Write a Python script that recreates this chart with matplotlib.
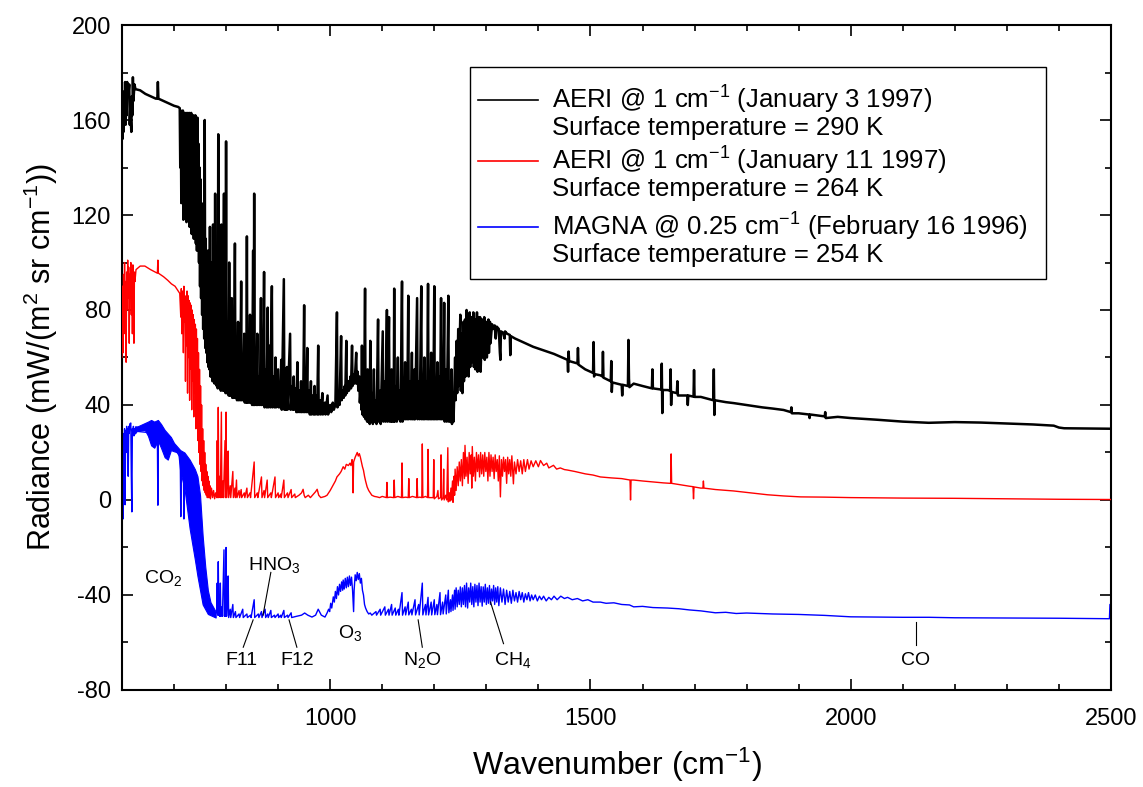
import matplotlib
matplotlib.use("Agg")
import matplotlib.pyplot as plt
from matplotlib.ticker import MultipleLocator
from matplotlib.patches import Rectangle

plt.rcParams['font.family'] = ['Liberation Sans', 'DejaVu Sans']
plt.rcParams['mathtext.fontset'] = 'custom'
plt.rcParams['mathtext.rm'] = 'Liberation Sans'
plt.rcParams['mathtext.it'] = 'Liberation Sans'
plt.rcParams['mathtext.default'] = 'regular'
plt.rcParams['axes.unicode_minus'] = False

# ---------------- data (wavenumber cm-1, radiance mW/(m2 sr cm-1)) ----------------
black_pts = [
    (600,165),(601,152),(602,170),(603,155),(604,172),(605,160),(606,176),(607,158),(608,168),(609,162),
    (610,176),(612,170),(614,175),(615,158),(616,165),(618,155),(619,170),(620,162),(621,178),(622,168),
    (624,175),(626,173),(635,172.5),(645,171),(655,170),(665,169),(668,169),(669,176),(670,169),(680,168),
    (690,167),(700,166),(708,165.5),(711,165),
    (712,140),(713,164),(714,125),(715,163),(716,145),(717,164),(718,118),(719,163),(720,130),(721,163),
    (722,125),(723,162),(724,117),(725,163),(726,128),(727,162),(728,120),(729,163),(730,115),(731,162),
    (732,125),(733,163),(734,112),(735,161),(736,120),(737,162),(738,110),(739,160),(740,115),(741,162),
    (742,108),(743,160),(744,105),(745,161),(746,110),(747,150),(748,100),(749,140),(750,90),(751,135),
    (752,85),(753,125),(754,78),(755,120),(756,72),(757,115),(758,68),(759,160),(760,64),(761,110),
    (762,62),(763,100),(764,58),(765,105),(766,56),(767,95),(768,55),(769,115),(770,52),(771,100),
    (772,52),(773,90),(774,50),(775,116),(776,50),(777,85),(778,49),(779,129),(780,50),(781,75),
    (782,48),(783,90),(784,47),(785,154),(786,48),(787,80),(788,47),(789,70),(790,46),(791,116),
    (792,47),(793,65),(794,46),(796,129),(797,46),(798,70),(799,45),(800,151),(801,45),(802,65),
    (803,45),(804,75),(805,44),(806,100),(807,44),(808,60),(809,44),(811,85),(812,43),(814,60),
    (815,43),(817,108),(818,43),(820,55),(821,42),(823,75),(824,42),(826,58),(827,42),(829,92),
    (830,42),(832,55),(833,42),(835,70),(836,41),(838,52),(839,41),(840,111),(841,41),(843,58),
    (844,41),(846,78),(847,41),(849,52),(850,40),(852,105),(853,40),(854,129),(855,40),(857,55),
    (858,40),(860,70),(861,40),(864,52),(865,40),(867,85),(868,40),(870,50),(871,40),(873,96),
    (874,39),(877,55),(878,39),(880,81),(881,39),(884,65),(885,39),(888,90),(889,39),(892,52),
    (893,39),(895,60),(896,39),(900,55),(901,39),(903,48),(904,39),(906,59),(907,38),(911,93),
    (912,38),(914,50),(915,38),(917,56),(918,38),(923,70),(924,38),(927,48),(928,38),(930,52),
    (931,38),(934,47),(935,37),(937,58),(938,37),(941,46),(942,37),(944,50),(945,37),(947,45),
    (948,37),(950,82),(951,37),(953,48),(954,37),(956,64),(957,37),(960,46),(961,36),(963,50),
    (964,36),(967,44),(968,36),(970,48),(971,36),(974,44),(975,36),(977,65),(978,36),(981,42),
    (982,36),(985,45),(986,36),(990,41),(991,36),(995,44),(996,36),(1000,40),(1002,37),(1005,41),
    (1007,38),(1010,40),(1013,79),(1014,39),(1017,43),(1018,40),(1021,69),(1022,42),(1025,46),(1026,43),
    (1028,48),(1029,44),(1031,67),(1032,45),(1035,50),(1036,46),(1039,52),(1040,47),(1042,65),(1043,48),
    (1046,53),(1047,49),(1050,62),(1051,49),(1053,54),(1054,46),(1056,52),(1057,41),(1059,48),(1060,38),
    (1061,65),(1062,36),(1064,44),(1065,35),(1067,89),(1068,34),(1070,45),(1071,33),(1072,55),(1073,33),
    (1075,42),(1076,32),(1077,67),(1078,33),(1081,45),(1082,32),(1084,55),(1085,33),(1088,42),(1089,32),
    (1092,76),(1093,33),(1096,46),(1097,32),(1101,71),(1102,33),(1105,50),(1106,33),(1109,80),(1110,33),
    (1113,77),(1114,33),(1116,46),(1117,33),(1118,55),(1119,33),(1121,44),(1122,33),(1123,89),(1124,33),
    (1127,48),(1128,33),(1130,60),(1131,34),(1134,46),(1135,33),(1138,92),(1139,33),(1141,50),(1142,34),
    (1144,58),(1145,34),(1147,45),(1148,34),(1150,86),(1151,34),(1154,50),(1155,34),(1157,62),(1158,34),
    (1160,48),(1161,34),(1162,55),(1163,34),(1167,85),(1168,34),(1171,50),(1172,34),(1175,90),(1176,34),
    (1178,48),(1179,34),(1181,60),(1182,34),(1185,50),(1186,34),(1188,91),(1189,34),(1191,48),(1192,34),
    (1194,62),(1195,34),(1197,52),(1198,34),(1200,90),(1201,34),(1203,50),(1204,34),(1206,58),(1207,34),
    (1210,52),(1211,34),(1213,85),(1214,34),(1216,50),(1217,34),(1219,83),(1220,33),(1223,55),(1224,33),
    (1227,86),(1228,33),(1230,50),(1231,33),(1233,55),(1234,32),(1236,45),(1237,33),(1240,60),(1241,42),
    (1243,67),(1244,45),(1246,72),(1247,48),(1250,78),(1251,46),(1253,70),(1254,45),(1256,75),(1257,50),
    (1259,76),(1260,52),(1262,80),(1263,55),(1265,74),(1266,52),(1268,79),(1269,56),(1271,77),(1272,58),
    (1275,79),(1276,56),(1278,76),(1279,55),(1282,79),(1283,54),(1285,77),(1286,58),(1288,77),(1289,54),
    (1292,76),(1293,60),(1296,77),(1297,59),(1300,75),(1301,60),(1304,76),(1305,62),(1307,75),(1308,66),
    (1311,74),(1313,72),(1316,73.5),(1318,68),(1320,73),(1324,72),(1326,62),(1327,59),(1328,71),(1332,70.5),
    (1335,68),(1336,71),(1340,70),(1345,69.5),(1346,61),(1347,69),(1355,68),(1365,67),(1375,66),(1390,64.5),
    (1410,63),(1430,61.5),(1456,59),(1457,54),(1458,62.5),(1459,58.5),(1475,57.5),(1476,64),(1477,57),(1490,55),
    (1505,53.5),(1506,66.5),(1507,52),(1508,53),(1519,52.5),(1523,52),(1524,62.4),(1525,51.5),(1539,50),(1540,58.5),
    (1541,45.5),(1542,49.5),(1560,48.5),(1561,44),(1562,48.5),(1572,48),(1573,67.4),(1574,51),(1575,47.5),(1583,49),
    (1600,48),(1618,47),(1619,55),(1620,47),(1636,46.5),(1637,57.4),(1638,36.6),(1639,46.3),(1648,46.3),(1653,46),
    (1654,55),(1655,40),(1656,45.5),(1666,45),(1667,50),(1668,44),(1686,44),(1687,40),(1688,44),(1698,43.5),
    (1699,54.7),(1700,43.4),(1712,43.4),(1736,42),(1737,55),(1738,35.8),(1739,42),(1760,41.2),(1775,40.8),(1800,40),
    (1830,39),(1850,38.5),(1871,37.9),(1885,37),(1886,39),(1887,36.5),(1900,36.5),(1920,36),(1921,34.5),(1922,36),
    (1950,35.2),(1951,37),(1952,34.5),(1975,35),(2000,34.5),(2050,33.8),(2100,33),(2150,32.5),(2200,32.8),(2250,32.6),
    (2300,32.2),(2350,31.8),(2390,31.3),(2400,30.5),(2410,30.2),(2450,30.1),(2500,30),
]

red_pts = [
    (600,60),(601,90),(602,62),(603,95),(604,70),(605,100),(606,75),(607,92),(608,58),(609,96),
    (610,80),(611,101),(612,85),(613,98),(614,66),(615,95),(616,85),(617,100),(618,78),(619,97),
    (620,70),(621,99),(622,88),(623,66),(624,96),(625,92),(627,97),(635,98.5),(644,98.5),(655,97),
    (668,95.5),(669,101),(670,95.5),(680,94),(688,92.5),(695,91),(702,90),(708,88),(711,87),
    (713,77),(714,89),(715,70),(716,88),(717,84),(718,62),(719,90),(720,75),(721,86),(722,50),
    (723,85),(724,65),(725,88),(726,45),(727,86),(728,60),(729,84),(730,42),(731,83),(732,55),
    (733,82),(734,38),(735,80),(736,50),(737,78),(738,35),(739,76),(740,45),(741,74),(742,30),
    (743,72),(744,40),(745,68),(746,25),(747,62),(748,20),(749,55),(750,15),(751,48),(752,12),
    (753,40),(754,8),(755,30),(756,6),(757,25),(758,4),(759,20),(760,3),(761,15),(762,2),
    (763,12),(764,1),(765,10),(766,1),(767,8),(768,1),(769,6),(770,0.5),(772,5),(774,1),
    (776,4),(778,0.5),(780,3),(782,1),(783,25),(784,1),(785,39),(786,1),(788,10),(789,1),
    (791,37),(792,1),(794,8),(795,1),(798,25),(799,1),(800,37),(801,1),(803,12),(804,20.6),
    (805,1),(808,6),(809,1),(813,12),(814,1),(817,5),(818,1),(820,8.4),(821,1),(825,4),
    (826,1),(829,4.4),(830,1),(835,3),(836,1),(840,5),(841,1),(846,3),(847,1),(854,16),
    (855,1),(860,3),(861,1),(868,9.7),(869,1),(873,4),(874,1),(879,8.4),(880,1),(886,3),
    (887,1),(894,9.7),(895,1),(900,3),(901,1),(905,2.5),(906,1),(911,8.4),(912,1),(918,3),
    (919,1),(925,4.4),(926,1),(932,2.5),(933,1),(940,2),(945,3),(948,4.5),(950,2),(952,1),
    (958,2),(962,1),(968,2.5),(972,3.5),(975,4.5),(978,2),(982,1),(990,1.5),(994,2),(1000,4),
    (1005,6),(1010,8),(1013,9.7),(1018,11),(1021,12),(1025,14),(1028,13),(1031,15),(1035,14.5),(1038,15.5),
    (1040,14.5),(1042,17),(1043,15),(1044,3),(1045,16),(1048,18),(1050,19),(1052,20),(1054,18.5),(1056,19.5),
    (1058,18),(1060,16),(1062,14),(1064,12.5),(1066,10),(1068,8),(1071,5.5),(1074,4),(1077,3),(1080,2),
    (1085,1.5),(1090,1.3),(1095,1),(1100,1.5),(1108,1),(1109,7.4),(1110,1),(1115,1.2),(1122,1),(1123,8.4),
    (1124,1),(1130,1.5),(1137,1),(1138,15.6),(1139,1),(1145,1.2),(1150,1),(1151,9),(1152,1),(1158,1.5),
    (1166,1),(1167,9),(1168,1),(1172,1.2),(1176,1),(1177,23.6),(1178,1),(1183,1.5),(1187,1),(1188,21.3),
    (1189,1),(1194,1),(1198,1),(1199,17),(1200,0.5),(1205,1.5),(1207,4),(1208,0.5),(1212,1),(1213,19),
    (1214,0),(1217,1),(1218,13),(1219,0),(1222,2),(1224,0),(1226,22),(1227,-0.8),(1229,3),(1230,-0.5),
    (1232,5),(1233,0),(1235,8),(1236,-1),(1238,10),(1239,2),(1240,13),(1242,4),(1244,14),(1246,6),
    (1248,16),(1250,8),(1252,17),(1254,6),(1256,20),(1258,9),(1259,23),(1261,10),(1263,18),(1265,7),
    (1267,20),(1269,11),(1271,19),(1272,5),(1273,22.5),(1275,10),(1277,18),(1279,8),(1281,20),(1283,12),
    (1285,19),(1287,9.7),(1289,20),(1291,11),(1293,19),(1295,10),(1297,20),(1299,12),(1301,18),(1303,8),
    (1305,20),(1307,10),(1309,19),(1311,12),(1313,18),(1315,9),(1317,19),(1319,12),(1321,17),(1323,8),
    (1325,18.6),(1327,1.3),(1329,17),(1331,10),(1333,18),(1335,12),(1337,17),(1339,7),(1341,18),(1343,11),
    (1345,17),(1347,10),(1349,18.6),(1352,6.8),(1354,16),(1357,11),(1360,17),(1363,12),(1366,16.5),(1369,11),
    (1372,17),(1375,12),(1379,17),(1382,13),(1386,16.5),(1390,14),(1395,16.5),(1400,14),(1404,16.6),(1410,14.5),
    (1416,15.5),(1420,13.5),(1429,14.6),(1435,13),(1442,13.5),(1450,12.8),(1456,12.6),(1470,12),(1490,11),(1505,10.5),
    (1519,9.7),(1540,9.3),(1560,9),(1576,8.4),(1577,0),(1578,8.4),(1583,8.4),(1600,8),(1620,7.6),(1640,7.2),
    (1654,7),(1655,19.4),(1656,7),(1670,6.5),(1690,5.8),(1697,5.6),(1698,0.5),(1699,5.5),(1712,5),(1716,5),
    (1717,8),(1718,5),(1740,4.4),(1775,3.8),(1800,3.2),(1840,2.2),(1871,1.7),(1904,1.3),(1950,1.2),(2000,1),
    (2100,0.8),(2200,0.7),(2300,0.5),(2400,0.3),(2500,0.2),
]

# MAGNA CO2-band envelope (densely resolved lines appear as a filled band)
blue_band_wn = [625, 630, 644, 650, 656, 662, 669, 675, 682, 688, 694, 700, 708, 712, 720, 730, 740, 745, 750, 755, 760, 765, 770, 780]
blue_band_lo = [28, 29.5, 29.5, 27, 23, 22, 25, 22, 18, 17, 21, 20.5, 20, 12, 5, -12, -25, -32, -38, -44, -46, -48, -48.5, -49.5]
blue_band_hi = [31, 31, 32.4, 33, 33.7, 33, 33.7, 32, 29.5, 28, 26.5, 24, 22, 21, 20, 17, 13, 10, 2, -15, -28, -38, -43, -47]

blue_pts = [
    (600,-5),(601,25),(602,-8),(603,28),(604,15),(605,30),(606,-2),(607,29),(608,20),(609,31),
    (610,25),(611,30),(612,10),(613,31),(614,28),(615,32),(617,32.4),(618,10),(619,-5),(620,30),
    (621,28),(622,31),(623,27),(624,30),(625,29),(668,28),(669,-2.2),(670,28),(700,22),(712,18),
    (713,-7),(714,15),(718,14),(719,-8),(720,12),(730,5),(745,-20),(760,-40),(770,-46),(780,-48),
    (782,-47),(783,-35),(784,-48.5),(785,-26),(786,-48.5),(787,-40),(788,-49),(789,-35),(790,-49),(792,-45),
    (793,-49),(796,-21),(797,-49),(798,-38),(799,-49),(800,-20),(801,-49),(803,-40),(804,-32),(805,-49.5),
    (808,-46),(809,-49.5),(813,-44),(814,-49.5),(818,-47),(819,-49.5),(825,-48),(826,-49.5),(832,-46),(833,-49.5),
    (840,-48),(841,-49.5),(847,-48.5),(848,-49.5),(854,-42),(855,-49.5),(862,-48),(863,-49.5),(868,-47),(869,-49.5),
    (875,-46),(876,-49.5),(880,-48),(881,-49.5),(886,-46.5),(887,-49.5),(893,-48.5),(894,-49.5),(900,-48),(901,-49.5),
    (905,-48.5),(906,-49.5),(911,-46.5),(912,-49.5),(918,-48.5),(919,-49.5),(925,-47.5),(926,-49.5),(935,-49),(945,-48.5),
    (951,-47.6),(957,-48.5),(965,-49.3),(972,-48.5),(977,-46),(983,-48.5),(990,-49.3),
    (994,-47.6),(997,-46),(999,-47),(1001,-43.5),(1003,-45.5),(1006,-40.8),(1008,-43),(1010,-38.5),(1012,-41.5),(1014,-36.5),
    (1016,-40),(1018,-35.5),(1020,-38.5),(1022,-34.5),(1024,-38),(1025,-33.7),(1027,-37.5),(1029,-33),(1031,-37),(1033,-32.5),
    (1035,-36.5),(1037,-32),(1039,-36),(1041,-32.5),(1043,-38),(1045,-47),(1046,-38),(1048,-31.5),(1050,-34),(1052,-30.5),
    (1054,-33.5),(1056,-31),(1058,-35),(1060,-33),(1062,-38),(1064,-40),(1066,-44),(1068,-45.5),(1071,-47),(1074,-48),
    (1077,-47.6),(1080,-48.5),
    (1088,-47),(1089,-48.5),(1096,-46),(1097,-48.5),(1105,-45),(1106,-48.5),(1112,-46),(1113,-48.5),(1118,-44),(1119,-48.5),
    (1125,-45.5),(1126,-48.5),(1131,-46),(1132,-48.5),(1138,-39),(1139,-48.5),(1144,-45),(1145,-48.4),(1150,-43),(1151,-48.4),
    (1156,-46),(1157,-48.4),(1163,-42),(1164,-48.4),(1170,-44),(1171,-48.4),(1177,-35),(1178,-48.4),(1183,-44),(1184,-48.4),
    (1188,-41),(1189,-48.4),(1194,-43),(1195,-48.4),(1200,-42),(1201,-48.3),(1205,-44),(1206,-48.3),(1211,-39),(1212,-48.3),
    (1216,-43),(1217,-48),(1222,-40),(1223,-48),(1227,-38),(1228,-47.5),(1231,-42),(1232,-47),(1235,-40),(1236,-46.5),
    (1239,-38),(1240,-46),
    (1242,-37),(1244,-45),(1246,-38),(1248,-44),(1250,-36.6),(1252,-45),(1254,-37),(1256,-44),(1258,-36),(1260,-45),
    (1262,-35),(1264,-45.5),(1266,-37),(1268,-43),(1270,-35),(1272,-44),(1274,-36.5),(1276,-45),(1278,-35.5),(1280,-43),
    (1282,-36),(1284,-44.5),(1286,-35),(1288,-43),(1290,-36.5),(1292,-44.7),(1294,-36.6),(1296,-43),(1298,-35.5),(1300,-44),
    (1302,-37),(1304,-43.5),(1306,-36),(1308,-44),(1310,-37.5),(1312,-42.5),(1314,-36),(1316,-44),(1318,-37),(1320,-43),
    (1322,-36.5),(1324,-44.5),(1327,-37),(1330,-43),(1333,-37.5),(1336,-44),(1339,-38),(1342,-43),(1345,-38.5),(1348,-43.5),
    (1351,-38),(1354,-42.5),(1357,-39),(1360,-43),(1363,-38.5),(1366,-42),(1369,-39),(1372,-43),(1375,-39.5),(1378,-42),
    (1381,-39),(1384,-42.5),(1387,-40),(1390,-42),(1394,-40),(1398,-42.5),(1402,-40.5),(1406,-42),(1410,-40.5),(1415,-42.5),
    (1420,-41),(1425,-42),(1430,-40.5),(1436,-42),(1443,-40.5),(1450,-41.5),(1456,-41),(1465,-42),(1475,-41.5),(1485,-42.5),
    (1495,-42),(1505,-43),(1519,-43),(1530,-43.5),(1545,-43.3),(1560,-44),(1575,-44.2),(1583,-45),(1600,-44.8),(1620,-45.3),
    (1648,-45.5),(1670,-45.8),(1690,-46.3),(1712,-46.7),(1740,-47.5),(1760,-47.3),(1780,-47.8),(1800,-47.6),(1850,-48),(1900,-48.2),
    (1950,-48.6),(2000,-49.2),(2050,-49.3),(2100,-49.4),(2150,-49.4),(2200,-49.6),(2300,-49.7),(2400,-49.8),(2480,-50),(2497,-50),
    (2498,-44),(2500,-44),
]

legend_labels = [
    ("AERI @ 1 cm$^{-1}$ (January 3 1997)", "Surface temperature = 290 K"),
    ("AERI @ 1 cm$^{-1}$ (January 11 1997)", "Surface temperature = 264 K"),
    ("MAGNA @ 0.25 cm$^{-1}$ (February 16 1996)", "Surface temperature = 254 K"),
]
series_colors = ["black", "#ff0000", "#0000ff"]

# annotations: (label, text x, text y, leader line (x0, y0, x1, y1) or None)
annotations = [
    ("CO$_2$", 679, -33, None),
    ("HNO$_3$", 892, -27.5, (886, -30.5, 871, -48.5)),
    ("F11", 829, -67.5, (833, -62, 852, -50.5)),
    ("F12", 936, -67.5, (936, -62, 921, -50.5)),
    ("O$_3$", 1038, -56, None),
    ("N$_2$O", 1177, -67.5, (1177, -62, 1169, -50.5)),
    ("CH$_4$", 1350, -67.5, (1333, -60.5, 1308, -43)),
    ("CO", 2125, -67.5, (2125, -61, 2125, -51.5)),
]

# ---------------- plotting ----------------
fig = plt.figure(figsize=(11.43, 7.87), dpi=100)
ax = fig.add_axes([0.1067, 0.1233, 0.8653, 0.8449])

bx, by = zip(*black_pts)
rx, ry = zip(*red_pts)
ux, uy = zip(*blue_pts)

ax.fill_between(blue_band_wn, blue_band_lo, blue_band_hi, color=series_colors[2], lw=0.8, zorder=2)
ax.plot(ux, uy, color=series_colors[2], lw=1.0, zorder=2)
ax.plot(rx, ry, color=series_colors[1], lw=1.0, zorder=3)
ax.plot(bx, by, color=series_colors[0], lw=1.8, zorder=4)

ax.set_xlim(600, 2500)
ax.set_ylim(-80, 200)
ax.xaxis.set_major_locator(MultipleLocator(500))
ax.xaxis.set_minor_locator(MultipleLocator(100))
ax.yaxis.set_major_locator(MultipleLocator(40))
ax.yaxis.set_minor_locator(MultipleLocator(20))
ax.tick_params(which='both', direction='in', top=True, right=True, width=1.2, labelsize=17)
ax.tick_params(which='major', length=8)
ax.tick_params(which='minor', length=4.5)
ax.tick_params(axis='x', pad=13)
ax.tick_params(axis='y', pad=8)
for s in ax.spines.values():
    s.set_linewidth(1.5)

ax.set_xlabel("Wavenumber (cm$^{-1}$)", fontsize=23, labelpad=11)
ax.set_ylabel("Radiance (mW/(m$^2$ sr cm$^{-1}$))", fontsize=22, labelpad=8)

for label, tx, ty, line in annotations:
    ax.text(tx, ty, label, fontsize=14, ha='center', va='center', zorder=6)
    if line is not None:
        ax.plot([line[0], line[2]], [line[1], line[3]], color='black', lw=0.8, zorder=6)

# legend box drawn in axes coordinates
ax.add_patch(Rectangle((0.352, 0.618), 0.582, 0.319, transform=ax.transAxes,
                       facecolor='white', edgecolor='black', lw=1.0, zorder=7))
row_y = [(0.887, 0.845), (0.796, 0.754), (0.696, 0.654)]
for (l1, l2), (y1, y2), c in zip(legend_labels, row_y, series_colors):
    ax.plot([0.360, 0.421], [y1, y1], color=c, lw=1.2, transform=ax.transAxes, zorder=8)
    ax.text(0.435, y1, l1, fontsize=18.5, va='center', ha='left', transform=ax.transAxes, zorder=8)
    ax.text(0.435, y2, l2, fontsize=18.5, va='center', ha='left', transform=ax.transAxes, zorder=8)

fig.savefig("out.png", dpi=100)
